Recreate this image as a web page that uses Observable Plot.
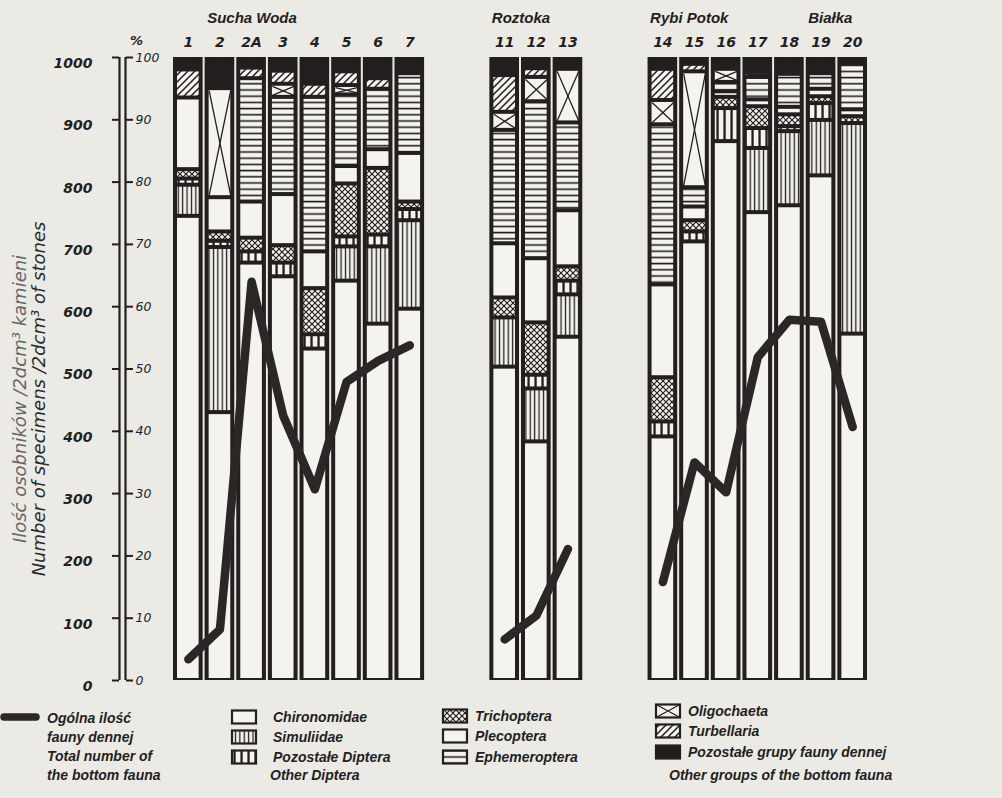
<!DOCTYPE html>
<html><head><meta charset="utf-8">
<script src="https://cdn.jsdelivr.net/npm/d3@7"></script>
<script src="https://cdn.jsdelivr.net/npm/@observablehq/plot@0.6"></script>
<style>
html,body{margin:0;padding:0;background:#ebeae5;}
#wrap{position:relative;width:1002px;height:798px;overflow:hidden;}
#chart svg{display:block;}
#legend{position:absolute;left:0;top:698px;}
</style></head><body>
<div id="wrap"><div id="chart"></div>
<svg id="legend" width="1002" height="100" xmlns="http://www.w3.org/2000/svg">
<defs>
<pattern id="p-simul" patternUnits="userSpaceOnUse" width="4.4" height="8"><rect width="4.4" height="8" fill="#f4f3ef"/><rect x="1.6" width="1.3" height="8" fill="#231f1f"/></pattern>
<pattern id="p-othdip" patternUnits="userSpaceOnUse" width="7" height="8"><rect width="7" height="8" fill="#f4f3ef"/><rect x="2.4" width="2.3" height="8" fill="#231f1f"/></pattern>
<pattern id="p-trich" patternUnits="userSpaceOnUse" width="6" height="6"><rect width="6" height="6" fill="#f4f3ef"/><path d="M-1,-1L7,7M7,-1L-1,7" stroke="#231f1f" stroke-width="1.2"/></pattern>
<pattern id="p-ephem" patternUnits="userSpaceOnUse" width="8" height="6.2"><rect width="8" height="6.2" fill="#f4f3ef"/><rect y="2.4" width="8" height="1.6" fill="#231f1f"/></pattern>
<pattern id="p-turb" patternUnits="userSpaceOnUse" width="7" height="7"><rect width="7" height="7" fill="#f4f3ef"/><path d="M-1,8L8,-1M-1,1L1,-1M6,8L8,6" stroke="#231f1f" stroke-width="1.5"/></pattern>
</defs>
</svg></div>
<script>
// ---- data ----
const samples = ["1","2","2A","3","4","5","6","7","11","12","13","14","15","16","17","18","19","20"];
const blockOf = [0,0,0,0,0,0,0,0,1,1,1,2,2,2,2,2,2,2];
const taxa = ["Chironomidae","Simuliidae","Pozostałe Diptera","Trichoptera","Plecoptera","Ephemeroptera","Oligochaeta","Turbellaria","Pozostałe grupy fauny dennej"];
const chironomidae  = [74.5,43.0,67.0,64.8,53.2,64.1,57.2,59.6,50.3,38.3,55.1,39.1,70.4,86.5,75.1,76.2,81.0,55.6];
const simuliidae    = [5.0,26.5,0,0,0,5.5,12.4,14.2,7.9,8.5,6.8,0,0,0,10.3,11.9,8.9,33.8];
const otherDiptera  = [1.0,1.0,1.8,2.2,2.3,1.6,1.9,1.8,0,2.2,2.2,2.4,1.6,5.3,3.2,0.8,2.7,0];
const trichoptera   = [1.5,1.5,2.2,2.8,7.4,8.5,10.7,1.2,3.2,8.4,2.3,7.1,1.8,1.8,3.5,1.9,1.1,1.1];
const plecoptera    = [11.5,5.5,5.8,8.2,5.9,2.8,3.0,7.8,8.7,10.3,9.0,14.9,2.2,0.9,1.1,1.2,1.2,1.1];
const ephemeroptera = [0,0,19.8,15.6,24.8,11.5,9.7,12.8,18.2,25.2,14.1,25.7,3.1,1.5,3.6,5.3,2.5,7.3];
const oligochaeta   = [0,17.5,0,2.1,0,1.5,0,0,2.9,3.9,8.6,3.9,18.6,2.1,0.8,0,0,0];
const turbellaria   = [4.5,0,1.7,2.1,2.1,2.2,1.7,0,5.9,1.4,0,5.0,1.2,0,0,0,0,0];
const otherGroups   = [2.0,5.0,1.7,2.2,4.3,2.3,3.4,2.6,2.9,1.8,1.9,1.9,1.1,1.9,2.4,2.7,2.6,1.1];
const totalFauna    = [34,82,640,425,307,479,513,538,66,104,211,158,350,302,519,579,576,407];
const pctTicks = [0,10,20,30,40,50,60,70,80,90,100];
const pctLabels = ["0","10","20","30","40","50","60","70","80","90","100"];
const countLabels = ["0","100","200","300","400","500","600","700","800","900","1000"];
const groupTitles = ["Sucha Woda","Roztoka","Rybi Potok","Białka"];
const groupTitleAt = ["2","11","14","19"];
const yTitlePl = "Ilość osobników /2dcm³ kamieni";
const yTitleEn = "Number of specimens /2dcm³ of stones";
const legendTotal = ["Ogólna ilość","fauny dennej","Total number of","the bottom fauna"];
const legendEnglish = {"Pozostałe Diptera":"Other Diptera","Pozostałe grupy fauny dennej":"Other groups of the bottom fauna"};

// ---- styles ----
const INK = "#231f1f", PAPER = "#f4f3ef", LINE = "#2c2727";
const FONT = "Liberation Sans, Arial, sans-serif";
const NUMFONT = "DejaVu Sans, sans-serif";
const taxonFill = {
  "Chironomidae": PAPER, "Simuliidae": "url(#p-simul)", "Pozostałe Diptera": "url(#p-othdip)",
  "Trichoptera": "url(#p-trich)", "Plecoptera": PAPER, "Ephemeroptera": "url(#p-ephem)",
  "Oligochaeta": PAPER, "Turbellaria": "url(#p-turb)", "Pozostałe grupy fauny dennej": INK
};
const shares = [chironomidae, simuliidae, otherDiptera, trichoptera, plecoptera, ephemeroptera, oligochaeta, turbellaria, otherGroups];

// slot positions: two empty slots between river blocks
const pos = samples.map((s,i)=> i + 2*blockOf[i]);
const nSlots = pos[pos.length-1] + 1;
const bars = samples.map((s,i)=>({sample:s, pos:pos[i], block:blockOf[i], total:totalFauna[i]}));
const segs = [];
samples.forEach((s,i)=>{
  let acc = 0;
  shares.forEach((arr,k)=>{
    const v = arr[i];
    if (v > 0) { segs.push({sample:s, pos:pos[i], taxon:taxa[k], lo:acc, hi:acc+v}); acc += v; }
  });
});
const W=1002, H=698, ML=172, MR=134, MT=57, MB=18;
const slotPx = (W-ML-MR)/nSlots, pctPx = (H-MT-MB)/100;
const inX = 5, inY = 2;
const xIn = inX/slotPx, yIn = inY/pctPx;
const oligo = segs.filter(d=>d.taxon==="Oligochaeta");
const oligoX = oligo.flatMap(d=>[
  {x1:d.pos+xIn, x2:d.pos+1-xIn, y1:d.lo+yIn, y2:d.hi-yIn},
  {x1:d.pos+xIn, x2:d.pos+1-xIn, y1:d.hi-yIn, y2:d.lo+yIn}]);
const titles = groupTitles.map((t,i)=>({title:t, pos:pos[samples.indexOf(groupTitleAt[i])]}));

const txt = {fontFamily:NUMFONT, fontStyle:"italic", fontWeight:"bold", fill:INK};
const chart = Plot.plot({
  width:W, height:H, marginLeft:ML, marginRight:MR, marginTop:MT, marginBottom:MB,
  x:{domain:[0,nSlots], axis:null}, y:{domain:[0,100], axis:null},
  color:{type:"identity"},
  style:{background:"transparent", fontFamily:FONT, overflow:"visible"},
  marks:[
    Plot.rect(bars, {x1:"pos", x2:d=>d.pos+1, y1:0, y2:100, fill:INK, insetLeft:1, insetRight:1}),
    Plot.rect(segs, {x1:"pos", x2:d=>d.pos+1, y1:"lo", y2:"hi", fill:d=>taxonFill[d.taxon], insetLeft:inX, insetRight:inX, insetTop:inY, insetBottom:inY}),
    Plot.link(oligoX, {x1:"x1", x2:"x2", y1:"y1", y2:"y2", stroke:INK, strokeWidth:1.3}),
    Plot.line(bars, {x:d=>d.pos+0.5, y:d=>d.total/10, z:"block", stroke:LINE, strokeWidth:8.5, strokeLinejoin:"round"}),
    // axes
    Plot.ruleX([0], {y1:0, y2:100, dx:-53, stroke:INK, strokeWidth:2.2}),
    Plot.ruleX([0], {y1:0, y2:100, dx:-47, stroke:INK, strokeWidth:2.2}),
    Plot.axisY(pctTicks, {anchor:"left", dx:-53, tickSize:7, text:null, stroke:INK, strokeWidth:2}),
    Plot.axisY(pctTicks, {anchor:"left", dx:-53, tickSize:0, tickPadding:27, dy:6, tickFormat:d=>countLabels[pctTicks.indexOf(d)], fontSize:14, ...txt}),
    Plot.axisY(pctTicks, {anchor:"right", dx:-(W-MR-125), tickSize:7, text:null, stroke:INK, strokeWidth:2}),
    Plot.axisY(pctTicks, {anchor:"right", dx:-(W-MR-125), tickSize:0, tickPadding:10, tickFormat:d=>pctLabels[pctTicks.indexOf(d)], fontSize:12.5, fontFamily:NUMFONT, fontStyle:"italic", fill:INK}),
    Plot.text(["%"], {frameAnchor:"top-left", text:d=>d, dx:-36, dy:-17, textAnchor:"middle", lineAnchor:"middle", fontSize:13, ...txt}),
    // sample labels and titles
    Plot.text(bars, {x:d=>d.pos+0.5, frameAnchor:"top", dy:-15, text:"sample", lineAnchor:"middle", fontSize:14, ...txt}),
    Plot.text(titles, {x:"pos", frameAnchor:"top", dy:-39, dx:3, text:"title", textAnchor:"start", lineAnchor:"middle", fontSize:15, fontFamily:FONT, fontStyle:"italic", fontWeight:"bold", fill:INK}),
    Plot.text([yTitlePl], {frameAnchor:"left", text:d=>d, rotate:-90, dx:-152, dy:30, textAnchor:"middle", lineAnchor:"middle", fontSize:18, fontFamily:NUMFONT, fontStyle:"italic", fill:"#666"}),
    Plot.text([yTitleEn], {frameAnchor:"left", text:d=>d, rotate:-90, dx:-133, dy:30, textAnchor:"middle", lineAnchor:"middle", fontSize:18, fontFamily:NUMFONT, fontStyle:"italic", fill:"#2b2b2b"})
  ]
});
document.getElementById("chart").appendChild(chart);

// ---- legend ----
const lg = d3.select("#legend");
const lt = {"font-family":FONT, "font-style":"italic", "font-weight":"bold", "font-size":"14px", "fill":INK, "dominant-baseline":"central"};
function applyAttrs(sel, o){ for (const k in o) sel.attr(k, o[k]); return sel; }
lg.append("path").attr("d","M4,19L36,19").attr("stroke",LINE).attr("stroke-width",7.5).attr("stroke-linecap","round");
legendTotal.forEach((t,i)=> applyAttrs(lg.append("text"), lt).attr("x",47).attr("y",20+19*i).text(t));
const cols = [{sx:232, tx:273, ys:[19,39,59]}, {sx:443, tx:475, ys:[18,38,59]}, {sx:656, tx:688, ys:[13,33,54]}];
taxa.forEach((t,k)=>{
  const c = cols[Math.floor(k/3)], y = c.ys[k%3];
  const w = 24, h = 13;
  lg.append("rect").attr("x",c.sx).attr("y",y-h/2).attr("width",w).attr("height",h)
    .attr("fill",taxonFill[t]).attr("stroke",INK).attr("stroke-width",2.2);
  if (t==="Oligochaeta") lg.append("path").attr("d",`M${c.sx},${y-h/2}L${c.sx+w},${y+h/2}M${c.sx+w},${y-h/2}L${c.sx},${y+h/2}`).attr("stroke",INK).attr("stroke-width",1.3);
  applyAttrs(lg.append("text"), lt).attr("x",c.tx).attr("y",y).text(t);
  if (legendEnglish[t]) applyAttrs(lg.append("text"), lt).attr("x", c.tx-(k===2?3:19)).attr("y",77).text(legendEnglish[t]);
});
</script></body></html>
